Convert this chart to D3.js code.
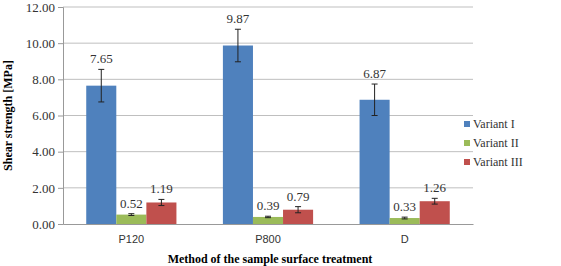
<!DOCTYPE html>
<html lang="en">
<head>
<meta charset="UTF-8">
<title>Shear strength</title>
<style>
  body { margin: 0; background: #fff; }
  svg { display: block; }
</style>
</head>
<body>
<script src="https://d3js.org/d3.v7.min.js"></script>
<script>
const categories = ["P120", "P800", "D"];
const variants = ["Variant I", "Variant II", "Variant III"];
const colors = ["#4f81bd", "#9bbb59", "#c0504d"];
const variantI = [7.65, 9.87, 6.87];
const variantII = [0.52, 0.39, 0.33];
const variantIII = [1.19, 0.79, 1.26];
const errI = [0.9, 0.9, 0.87];
const errII = [0.05, 0.04, 0.05];
const errIII = [0.17, 0.17, 0.16];
const yTicks = [0, 2, 4, 6, 8, 10, 12];

const w = 561, h = 266;
const m = {left: 63, right: 473, top: 7, bottom: 224};
const serif = "'Liberation Serif', 'Times New Roman', serif";
const sans = "'Liberation Sans', Arial, sans-serif";

const rows = [];
[variantI, variantII, variantIII].forEach((vals, s) => {
  const errs = [errI, errII, errIII][s];
  vals.forEach((v, i) => rows.push({cat: categories[i], s: s, v: v, e: errs[i]}));
});

const svg = d3.select("body").append("svg").attr("width", w).attr("height", h);

const x = d3.scaleBand().domain(categories).range([m.left, m.right]).paddingInner(0.34).paddingOuter(0.17);
const xs = d3.scaleBand().domain(d3.range(3)).range([0, x.bandwidth()]);
const y = d3.scaleLinear().domain([0, 12]).range([m.bottom, m.top]);

// gridlines
svg.append("g")
  .selectAll("line").data(yTicks.slice(1)).join("line")
  .attr("x1", m.left).attr("x2", m.right)
  .attr("y1", d => y(d)).attr("y2", d => y(d))
  .attr("stroke", "#bfbfbf");

// y axis
const yAxis = svg.append("g").attr("transform", `translate(${m.left},0)`)
  .call(d3.axisLeft(y).tickValues(yTicks).tickFormat(d3.format(".2f")).tickSize(5).tickPadding(3));
yAxis.select(".domain").attr("stroke", "#999");
yAxis.selectAll(".tick line").attr("stroke", "#999");
yAxis.selectAll(".tick text").style("font-family", serif).style("font-size", "13px").attr("fill", "#333");

// x axis
const xAxis = svg.append("g").attr("transform", `translate(0,${m.bottom})`)
  .call(d3.axisBottom(x).tickSize(0).tickPadding(11));
xAxis.select(".domain").attr("stroke", "#999");
xAxis.selectAll(".tick text").style("font-family", sans).style("font-size", "11px").attr("fill", "#333");

// bars
svg.append("g").selectAll("rect").data(rows).join("rect")
  .attr("x", d => x(d.cat) + xs(d.s))
  .attr("y", d => y(d.v))
  .attr("width", xs.bandwidth())
  .attr("height", d => y(0) - y(d.v))
  .attr("fill", d => colors[d.s]);

// error bars
const eb = svg.append("g").attr("stroke", "#222").attr("stroke-width", 1);
rows.forEach(d => {
  const cx = x(d.cat) + xs(d.s) + xs.bandwidth() / 2;
  eb.append("line").attr("x1", cx).attr("x2", cx).attr("y1", y(d.v + d.e)).attr("y2", y(d.v - d.e));
  eb.append("line").attr("x1", cx - 3).attr("x2", cx + 3).attr("y1", y(d.v + d.e)).attr("y2", y(d.v + d.e));
  eb.append("line").attr("x1", cx - 3).attr("x2", cx + 3).attr("y1", y(d.v - d.e)).attr("y2", y(d.v - d.e));
});

// value labels
svg.append("g").selectAll("text").data(rows).join("text")
  .attr("x", d => x(d.cat) + xs(d.s) + xs.bandwidth() / 2)
  .attr("y", d => y(d.v + d.e) - 6)
  .attr("text-anchor", "middle")
  .style("font-family", serif).style("font-size", "13px").attr("fill", "#333")
  .text(d => d.v.toFixed(2));

// axis titles
svg.append("text").attr("x", 270).attr("y", 263).attr("text-anchor", "middle")
  .style("font-family", serif).style("font-size", "12px").style("font-weight", "bold")
  .text("Method of the sample surface treatment");
svg.append("text").attr("transform", `translate(12,${(m.top + m.bottom) / 2}) rotate(-90)`)
  .attr("text-anchor", "middle")
  .style("font-family", serif).style("font-size", "12px").style("font-weight", "bold")
  .text("Shear strength [MPa]");

// legend
const lg = svg.append("g").attr("transform", "translate(464,124)");
variants.forEach((v, i) => {
  const row = lg.append("g").attr("transform", `translate(0,${i * 19})`);
  row.append("rect").attr("x", 0).attr("y", -3).attr("width", 6).attr("height", 6).attr("fill", colors[i]);
  row.append("text").attr("x", 9).attr("y", 4)
    .style("font-family", serif).style("font-size", "12px").attr("fill", "#333")
    .text(v);
});
</script>
</body>
</html>
